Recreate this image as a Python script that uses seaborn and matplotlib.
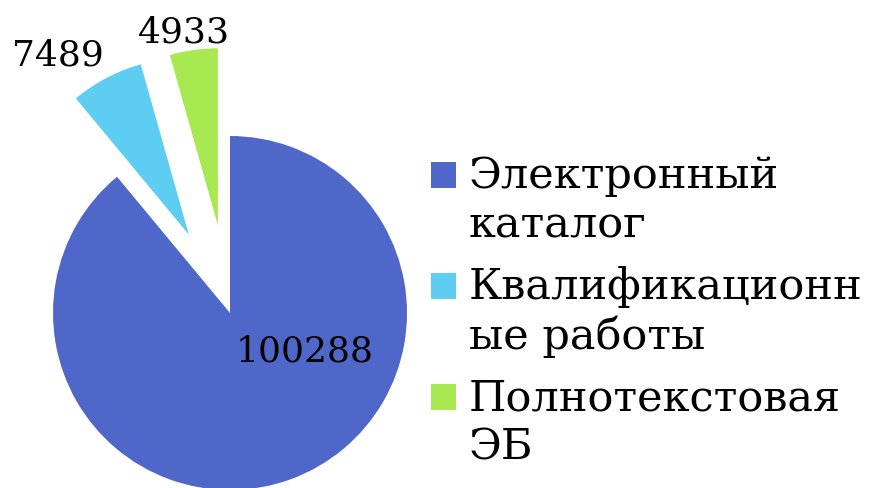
import numpy as np
import matplotlib
matplotlib.use("Agg")
import matplotlib.pyplot as plt
import seaborn as sns
from matplotlib.patches import Rectangle
from matplotlib.legend_handler import HandlerPatch

categories = ["Электронный\nкаталог", "Квалификационн\nые работы", "Полнотекстовая\nЭБ"]
values = [100288, 7489, 4933]
colors = ["#4F67C8", "#5ECDF2", "#A8E851"]
explode = [0.0, 0.5, 0.5]

sns.set_theme(style="white")
plt.rcParams["font.family"] = ["DejaVu Serif"]
plt.rcParams["text.color"] = "black"


class FirstLineSquare(HandlerPatch):
    # square next to the first line of a two-line label
    def create_artists(self, legend, orig_handle, xdescent, ydescent,
                       width, height, fontsize, trans):
        shift = 0.61 * fontsize
        p = Rectangle((-xdescent, -ydescent + shift), width, height,
                      facecolor=orig_handle.get_facecolor(), linewidth=0)
        p.set_transform(trans)
        return [p]


W, H = 871, 489
fig = plt.figure(figsize=(W / 100, H / 100), dpi=100)

# pie centre at (230, 314) px, radius 177 px
r_px, cx, cy = 177.0, 230.0, 314.0
ax = fig.add_axes([0, 0, 460 / W, 1])

wedges, _ = ax.pie(values, colors=sns.color_palette(colors), explode=explode,
                   startangle=90, counterclock=False, radius=1.0,
                   wedgeprops=dict(linewidth=0))
ax.set_xlim(-cx / r_px, (460 - cx) / r_px)
ax.set_ylim(-(H - cy) / r_px, cy / r_px)
ax.set_axis_off()

label_pos = [(0.42, -0.21), (-0.97, 1.46), (-0.26, 1.59)]
for v, (x, y) in zip(values, label_pos):
    ax.text(x, y, str(v), ha="center", va="center", fontsize=26, color="black")

leg = fig.legend(wedges, categories, loc="center left",
                 bbox_to_anchor=(431 / W, 1 - 312 / H),
                 frameon=False, fontsize=31, handlelength=0.58, handleheight=0.58,
                 handletextpad=0.3, labelspacing=0.45, borderpad=0, borderaxespad=0,
                 handler_map={w: FirstLineSquare() for w in wedges})
for t in leg.get_texts():
    t.set_linespacing(1.22)
    t.set_color("black")

fig.savefig("out.png", dpi=100)
